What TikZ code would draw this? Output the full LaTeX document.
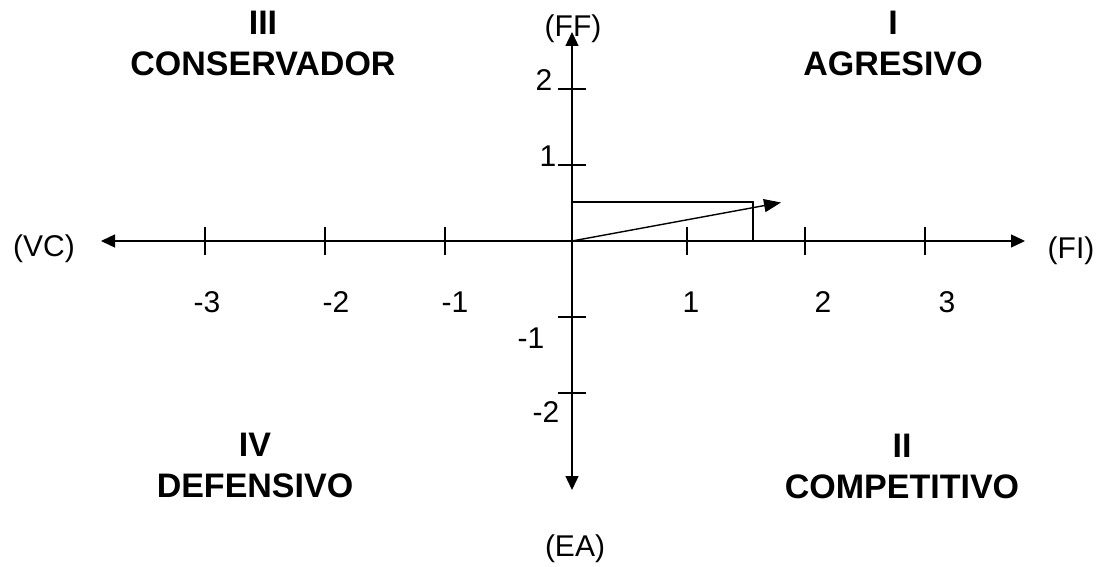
\documentclass[tikz,border=0pt]{standalone}
\usepackage{fontspec}
\setmainfont{Liberation Sans}
\usetikzlibrary{arrows.meta}
\begin{document}
\begin{tikzpicture}[x=1pt,y=-1pt,
  axis/.style={line width=1.4pt,-{Triangle[length=14pt,width=13pt]}},
  thin line/.style={line width=1.4pt},
  tick/.style={line width=1.4pt},
  lbl/.style={inner sep=0pt,font=\fontsize{30}{33}\selectfont},
  num/.style={lbl,anchor=base},
  quad/.style={inner sep=0pt,align=center,font=\fontsize{34}{41}\selectfont\bfseries}]
\useasboundingbox (0,0) rectangle (1102,567);
% axis coordinates
\coordinate (O) at (572,241);
\coordinate (L) at (101,241);
\coordinate (R) at (1025,241);
\coordinate (T) at (572,32);
\coordinate (B) at (572,490);
\draw[axis] (O) -- (L);
\draw[axis] (O) -- (R);
\draw[axis] (O) -- (T);
\draw[axis] (O) -- (B);
% x ticks
\foreach \x/\n in {205/xm3,325/xm2,445/xm1,687/xp1,805/xp2,925/xp3}{
  \coordinate (\n a) at (\x,227);
  \coordinate (\n b) at (\x,255);
  \draw[tick] (\n a) -- (\n b);
}
% y ticks
\foreach \y/\n in {89/yp2,165/yp1,317/ym1,393/ym2}{
  \coordinate (\n a) at (558,\y);
  \coordinate (\n b) at (586,\y);
  \draw[tick] (\n a) -- (\n b);
}
% vector and projection
\coordinate (P) at (753,202);
\coordinate (Py) at (572,202);
\coordinate (Px) at (753,241);
\coordinate (V) at (781,202.5);
\draw[thin line] (Py) -- (P) -- (Px);
\draw[line width=1.4pt,-{Triangle[length=17pt,width=13pt]}] (O) -- (V);
% tick labels
\node[num] (lm3) at (207,312) {-3};
\node[num] (lm2) at (336,312) {-2};
\node[num] (lm1) at (455,312) {-1};
\node[num] (lp1) at (691,312) {1};
\node[num] (lp2) at (823,312) {2};
\node[num] (lp3) at (947,312) {3};
\node[num] (ly2) at (544,91) {2};
\node[num] (ly1) at (548,166) {1};
\node[num] (lym1) at (531,348) {-1};
\node[num] (lym2) at (546,422) {-2};
% axis labels
\node[lbl] (FF) at (573,29) {(FF)};
\node[lbl] (VC) at (44,249) {(VC)};
\node[lbl] (FI) at (1071,251) {(FI)};
\node[lbl] (EA) at (575,549) {(EA)};
% quadrants
\node[quad] (q3) at (263,43) {III\\CONSERVADOR};
\node[quad] (q1) at (893,43) {I\\AGRESIVO};
\node[quad] (q4) at (255,465) {IV\\DEFENSIVO};
\node[quad] (q2) at (902,466) {II\\COMPETITIVO};
\end{tikzpicture}
\end{document}
